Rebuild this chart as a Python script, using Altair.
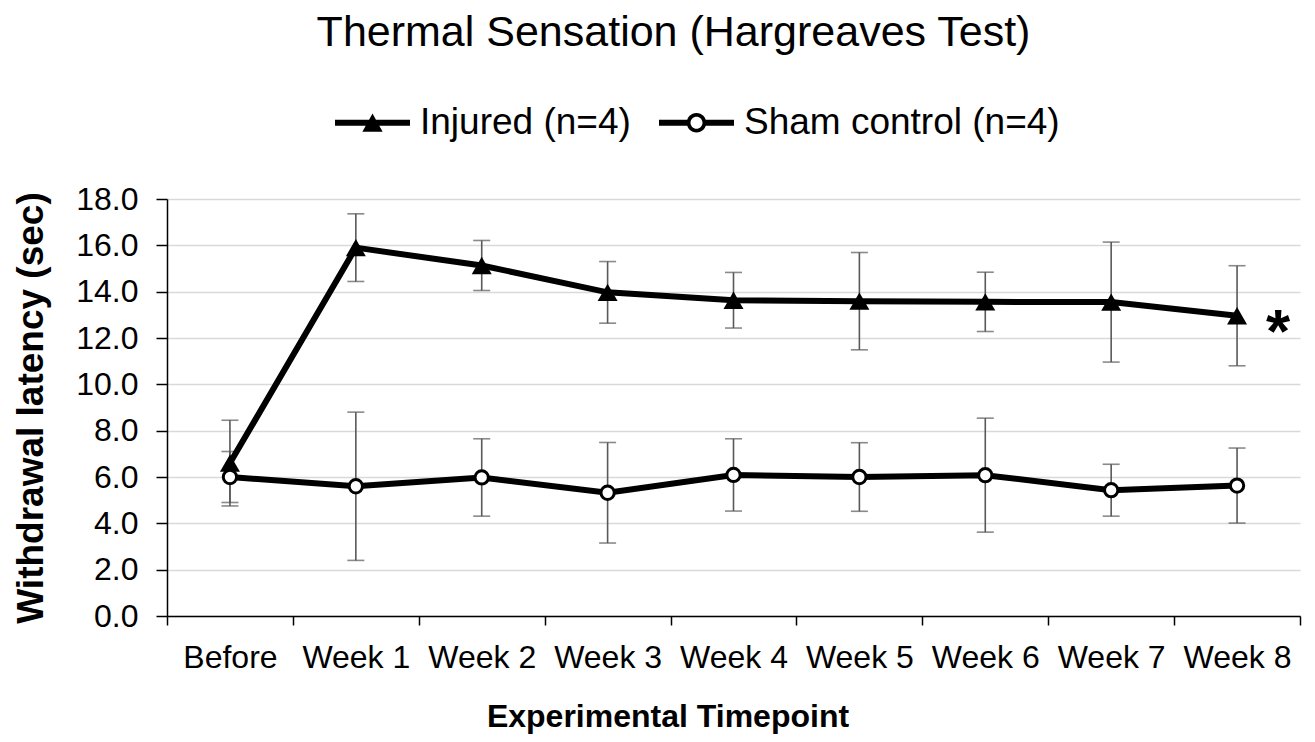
import altair as alt
import pandas as pd

# ---- data ----
timepoints = ["Before", "Week 1", "Week 2", "Week 3", "Week 4",
              "Week 5", "Week 6", "Week 7", "Week 8"]
series_names = ["Injured (n=4)", "Sham control (n=4)"]

injured_mean = [6.6, 15.9, 15.13, 13.97, 13.63, 13.59, 13.56, 13.55, 12.96]
injured_err = [1.85, 1.46, 1.08, 1.33, 1.2, 2.1, 1.28, 2.59, 2.16]
sham_mean = [6.0, 5.6, 5.98, 5.32, 6.09, 6.0, 6.08, 5.43, 5.63]
sham_err = [1.1, 3.2, 1.67, 2.17, 1.56, 1.48, 2.46, 1.12, 1.62]

sig_timepoint = ["Week 8"]
sig_value = [12.96]
sig_label = ["*"]

y_ticks = [0, 2, 4, 6, 8, 10, 12, 14, 16, 18]

# ---- tables ----
rows = []
for name, means, errs in [(series_names[0], injured_mean, injured_err),
                          (series_names[1], sham_mean, sham_err)]:
    for t, m, e in zip(timepoints, means, errs):
        rows.append({"timepoint": t, "series": name, "mean": m,
                     "low": m - e, "high": m + e})
df = pd.DataFrame(rows)
df_sig = pd.DataFrame({"timepoint": sig_timepoint, "value": sig_value, "label": sig_label})

FONT = "Liberation Sans"

x_scale = alt.Scale(type="band", domain=timepoints, paddingInner=0, paddingOuter=0)
x_axis = alt.Axis(tickBand="extent", grid=False, labelAngle=0, tickSize=9,
                  labelPadding=17, labelFontSize=32, labelFont=FONT, labelColor="black",
                  title="Experimental Timepoint", titleFont=FONT, titleFontSize=32,
                  titleFontWeight="bold", titleColor="black", titleX=500.5, titleY=110,
                  titleBaseline="alphabetic", titleAlign="center")
y_scale = alt.Scale(domain=[0, 18], nice=False, zero=True)
y_axis = alt.Axis(values=y_ticks, format=".1f", grid=True, tickSize=11,
                  labelPadding=18, labelFontSize=32, labelFont=FONT, labelColor="black",
                  title="Withdrawal latency (sec)", titleFont=FONT, titleFontSize=37,
                  titleFontWeight="bold", titleColor="black", titleX=-125, titleY=208.5,
                  titleBaseline="alphabetic", titleAlign="center", titleAngle=270)


def X():
    return alt.X("timepoint:N", sort=timepoints, bandPosition=0.5, scale=x_scale, axis=x_axis)


base = alt.Chart(df)

err_rule = base.mark_rule(color="#595959", strokeWidth=1.6).encode(
    x=X(),
    y=alt.Y("low:Q", scale=y_scale, axis=y_axis),
    y2="high:Q",
    detail="series:N",
)
err_cap_low = base.mark_tick(color="#595959", thickness=1.6, size=17).encode(
    x=X(), y=alt.Y("low:Q", scale=y_scale, axis=y_axis))
err_cap_high = base.mark_tick(color="#595959", thickness=1.6, size=17).encode(
    x=X(), y=alt.Y("high:Q", scale=y_scale, axis=y_axis))

lines = base.mark_line(color="black", strokeWidth=6).encode(
    x=X(), y=alt.Y("mean:Q", scale=y_scale, axis=y_axis), detail="series:N")

pts_inj = base.transform_filter(alt.datum.series == series_names[0]).mark_point(
    shape="triangle-up", size=400, filled=True, color="black", opacity=1).encode(
    x=X(), y=alt.Y("mean:Q", scale=y_scale, axis=y_axis))

pts_sham = base.transform_filter(alt.datum.series == series_names[1]).mark_point(
    shape="circle", size=177, filled=True, fill="white", stroke="black",
    strokeWidth=3, opacity=1).encode(
    x=X(), y=alt.Y("mean:Q", scale=y_scale, axis=y_axis))

# legend symbols: line with marker (filled shapes, annulus for the open circle)
path_inj = ("M-1,-0.08 L1,-0.08 L1,0.08 L-1,0.08 Z "
            "M0,-0.25 L0.27,0.24 L-0.27,0.24 Z")
path_sham = ("M-1,-0.08 L-0.2,-0.08 L-0.2,0.08 L-1,0.08 Z "
             "M0.2,-0.08 L1,-0.08 L1,0.08 L0.2,0.08 Z "
             "M0.26,0 A0.26,0.26 0 1,1 -0.26,0 A0.26,0.26 0 1,1 0.26,0 Z "
             "M0.16,0 A0.16,0.16 0 1,0 -0.16,0 A0.16,0.16 0 1,0 0.16,0 Z")

legend_layer = base.mark_point(filled=True, color="black", opacity=0).encode(
    x=X(), y=alt.Y("mean:Q", scale=y_scale, axis=y_axis),
    shape=alt.Shape("series:N", scale=alt.Scale(domain=series_names, range=[path_inj, path_sham]),
                    legend=alt.Legend(title=None, orient="none", legendX=168, legendY=-114,
                                      direction="horizontal", symbolSize=5625,
                                      symbolFillColor="black", symbolStrokeWidth=0,
                                      symbolOpacity=1, labelFontSize=37, labelFont=FONT,
                                      labelColor="black", labelOffset=10, columnPadding=28,
                                      padding=0, labelLimit=500)),
)

sig = alt.Chart(df_sig).mark_text(fontSize=62, fontWeight="bold", font=FONT, color="black",
                                   dx=41, dy=17, align="center", baseline="middle").encode(
    x=X(), y=alt.Y("value:Q", scale=y_scale, axis=y_axis), text="label:N")

chart = alt.layer(err_rule, err_cap_low, err_cap_high, lines, pts_inj, pts_sham,
                  legend_layer, sig).properties(
    width=1133, height=417,
    title=alt.TitleParams("Thermal Sensation (Hargreaves Test)", fontSize=43,
                          fontWeight="normal", font=FONT, color="black", anchor="middle",
                          frame="group", dx=-60, offset=-4, baseline="alphabetic"),
    padding={"left": 159, "top": 191, "right": 5, "bottom": 118},
    autosize=alt.AutoSizeParams(type="none"),
).configure_view(stroke=None).configure_axis(
    domainColor="black", domainWidth=1.5, tickColor="black", tickWidth=1.5,
    gridColor="#d9d9d9", gridWidth=1.5,
)

chart.save("out.html", embed_options={"renderer": "svg", "actions": False})
